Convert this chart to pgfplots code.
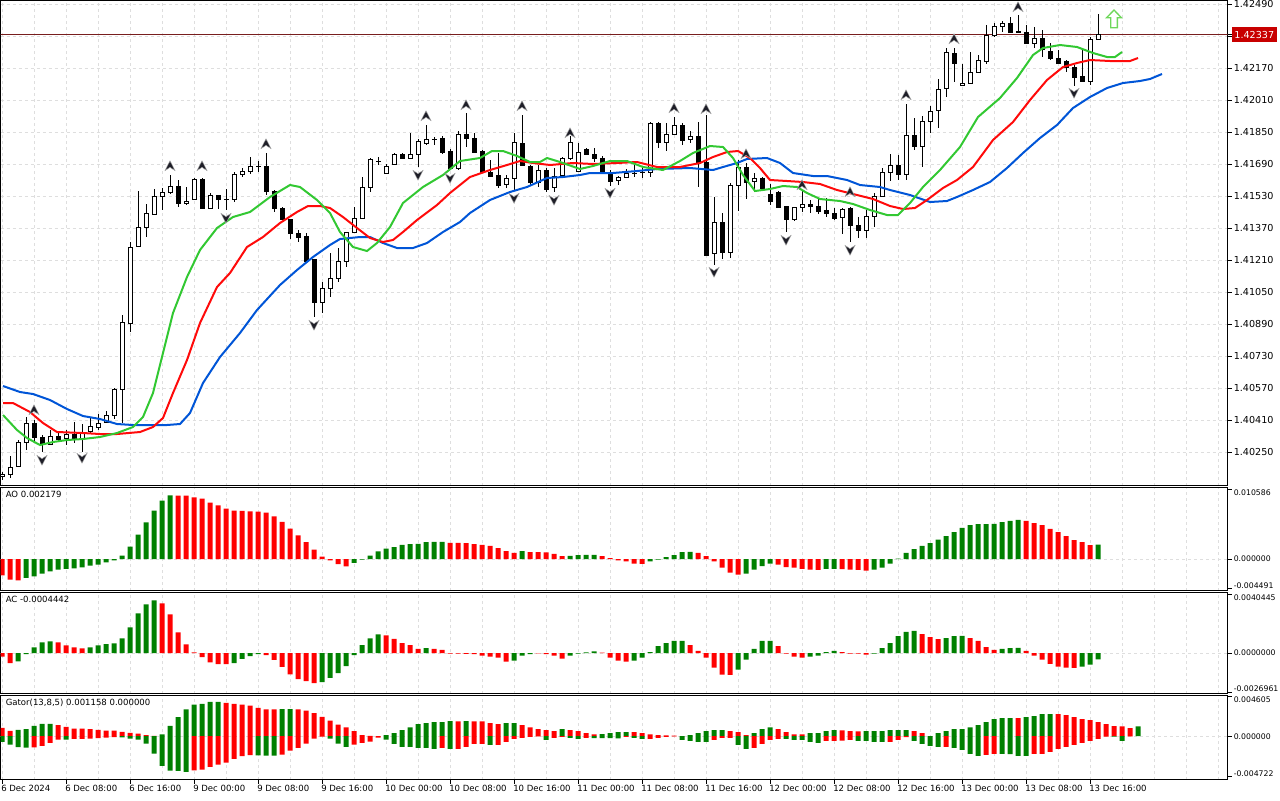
\documentclass[border=0pt]{standalone}
\usepackage{fontspec}
\setmainfont{DejaVu Sans}
\usepackage{pgfplots}
\usepackage{pgfplotstable}
\pgfplotsset{compat=1.18}
\newcommand{\lab}{\fontsize{6.4pt}{7pt}\selectfont}
\newcommand{\plab}{\fontsize{7.2pt}{8pt}\selectfont}
\newcommand{\slab}{\fontsize{5.8pt}{7pt}\selectfont}
\definecolor{mtgreen}{RGB}{0,128,0}
\definecolor{mtred}{RGB}{255,0,0}
\definecolor{jaw}{RGB}{0,85,215}
\definecolor{teeth}{RGB}{255,10,10}
\definecolor{lips}{RGB}{50,200,50}
\definecolor{gridc}{RGB}{222,222,222}
\definecolor{pricebg}{RGB}{200,0,0}
\definecolor{priceline}{RGB}{120,30,30}
\definecolor{fractal}{RGB}{30,30,40}
\definecolor{arrowc}{RGB}{110,215,90}
\pgfdeclareplotmark{fup}{%
 \pgfpathmoveto{\pgfqpoint{0pt}{3.9pt}}%
 \pgfpathlineto{\pgfqpoint{3.75pt}{-3.4pt}}%
 \pgfpathlineto{\pgfqpoint{0pt}{-1.0pt}}%
 \pgfpathlineto{\pgfqpoint{-3.75pt}{-3.4pt}}%
 \pgfpathclose\pgfusepathqfillstroke}
\pgfdeclareplotmark{fdown}{%
 \pgfpathmoveto{\pgfqpoint{0pt}{-3.9pt}}%
 \pgfpathlineto{\pgfqpoint{3.75pt}{3.4pt}}%
 \pgfpathlineto{\pgfqpoint{0pt}{1.0pt}}%
 \pgfpathlineto{\pgfqpoint{-3.75pt}{3.4pt}}%
 \pgfpathclose\pgfusepathqfillstroke}
\pgfdeclareplotmark{bigup}{%
 \pgfpathmoveto{\pgfqpoint{0pt}{6.75pt}}%
 \pgfpathlineto{\pgfqpoint{5.6pt}{0.9pt}}%
 \pgfpathlineto{\pgfqpoint{2.5pt}{0.9pt}}%
 \pgfpathlineto{\pgfqpoint{2.5pt}{-6.5pt}}%
 \pgfpathlineto{\pgfqpoint{-2.5pt}{-6.5pt}}%
 \pgfpathlineto{\pgfqpoint{-2.5pt}{0.9pt}}%
 \pgfpathlineto{\pgfqpoint{-5.6pt}{0.9pt}}%
 \pgfpathclose\pgfusepathqstroke}
\pgfplotsset{panel/.style={
  scale only axis, width=920.25pt,
  xmin=-0.1875, xmax=153.1875,
  axis line style={line width=0.75pt},
  ytick pos=right, yticklabel pos=right,
  tick align=outside, major tick length=3pt, minor tick length=0pt,
  tick style={line width=0.75pt, black},
  xtick={0,8,...,136}, minor xtick={4,12,20,28,36,44,52,60,68,76,84,92,100,108,116,124,132,140,144,148,152},
  xmajorgrids, xminorgrids,
  grid style={gridc, dash pattern=on 2.25pt off 2.25pt, line width=0.75pt},
  minor grid style={gridc, dash pattern=on 2.25pt off 2.25pt, line width=0.75pt},
  yticklabel style={font=\slab, anchor=west, inner sep=0pt, xshift=1.5pt},
  xticklabel style={font=\lab},
  scaled y ticks=false,
  clip mode=individual,
  /pgf/number format/assume math mode=true,
}}
\pgfplotsset{upper/.style={xticklabels={}, xtick style={draw=none}}}
\pgfplotsset{hist/.style={ybar, bar width=3.75pt, bar shift=0pt, draw=none}}
\tikzset{edgelab/.style={font=\slab, inner sep=0pt, xshift=4.5pt}}

\pgfplotstableread{
j O H L C
0 1.4013 1.4015 1.4011 1.4014
1 1.4014 1.4023 1.4012 1.40175
2 1.4018 1.4031 1.40175 1.4030
3 1.4030 1.40425 1.4026 1.40395
4 1.40395 1.4041 1.4030 1.40325
5 1.40325 1.40335 1.4025 1.4029
6 1.4029 1.4036 1.40285 1.4033
7 1.4033 1.4035 1.4030 1.40315
8 1.4032 1.4036 1.40285 1.4034
9 1.4034 1.4040 1.40295 1.40315
10 1.4032 1.4039 1.4025 1.4035
11 1.40355 1.40425 1.40345 1.4038
12 1.40375 1.4044 1.4036 1.40395
13 1.4040 1.40455 1.40395 1.40435
14 1.40435 1.4057 1.40415 1.40565
15 1.40565 1.40935 1.40395 1.4090
16 1.40895 1.4130 1.4085 1.41275
17 1.4128 1.41555 1.4128 1.41375
18 1.41375 1.4149 1.41325 1.41445
19 1.4144 1.41565 1.41435 1.4153
20 1.4153 1.4157 1.4146 1.4155
21 1.4155 1.41635 1.4154 1.4158
22 1.4158 1.4161 1.41475 1.41495
23 1.41495 1.41575 1.41485 1.41505
24 1.41515 1.4162 1.4151 1.41615
25 1.41615 1.4162 1.41465 1.4147
26 1.4147 1.41545 1.41465 1.41535
27 1.41535 1.41535 1.41465 1.41515
28 1.41515 1.41565 1.4146 1.41515
29 1.41515 1.4165 1.4150 1.4164
30 1.4164 1.4167 1.41625 1.41655
31 1.41655 1.41725 1.4164 1.4168
32 1.4168 1.41705 1.4165 1.4168
33 1.4168 1.41745 1.41535 1.41555
34 1.41555 1.4156 1.4145 1.4147
35 1.4147 1.41475 1.4141 1.41415
36 1.41415 1.41415 1.41315 1.41345
37 1.41345 1.4136 1.4130 1.41325
38 1.4133 1.41345 1.4120 1.41205
39 1.41215 1.41215 1.40925 1.4100
40 1.4100 1.4110 1.40945 1.4107
41 1.4107 1.41245 1.41025 1.4112
42 1.4112 1.4127 1.4110 1.41205
43 1.41205 1.4135 1.41175 1.4135
44 1.4135 1.41475 1.41345 1.4142
45 1.4142 1.41625 1.4142 1.41575
46 1.41575 1.4172 1.4155 1.41715
47 1.41705 1.41725 1.41685 1.41705
48 1.41645 1.4169 1.4164 1.4168
49 1.4169 1.41745 1.41685 1.4174
50 1.4174 1.41745 1.41715 1.4172
51 1.4172 1.41845 1.4172 1.4174
52 1.4174 1.41815 1.41675 1.41805
53 1.41795 1.41885 1.41785 1.41815
54 1.41815 1.41825 1.41785 1.41815
55 1.4182 1.4183 1.4174 1.4175
56 1.41755 1.41765 1.4166 1.4167
57 1.4167 1.41855 1.4166 1.4184
58 1.4184 1.41945 1.41775 1.4182
59 1.4182 1.41845 1.41745 1.4175
60 1.41755 1.4176 1.4165 1.4165
61 1.4165 1.4171 1.41625 1.4163
62 1.41635 1.41745 1.4157 1.41585
63 1.4159 1.41635 1.4157 1.4162
64 1.4162 1.41845 1.4156 1.4180
65 1.41795 1.41935 1.4170 1.41685
66 1.4168 1.41685 1.41585 1.4160
67 1.4160 1.41685 1.41575 1.4166
68 1.4166 1.4167 1.4155 1.41565
69 1.41575 1.4167 1.4155 1.4163
70 1.41635 1.41725 1.41625 1.4172
71 1.4172 1.4183 1.4171 1.4180
72 1.41655 1.41795 1.4165 1.4175
73 1.41765 1.4177 1.41735 1.4174
74 1.4174 1.4177 1.4170 1.4172
75 1.4172 1.4173 1.4164 1.4165
76 1.4164 1.4166 1.4158 1.41605
77 1.4161 1.4163 1.41585 1.41625
78 1.41625 1.41665 1.4162 1.41645
79 1.41645 1.41685 1.41625 1.41645
80 1.4165 1.41675 1.4162 1.4165
81 1.4165 1.4190 1.41625 1.41895
82 1.41895 1.4190 1.4177 1.4180
83 1.4180 1.41895 1.41755 1.4184
84 1.4184 1.41925 1.41835 1.41885
85 1.41885 1.41895 1.41785 1.4181
86 1.41815 1.41855 1.41795 1.4183
87 1.4183 1.4190 1.41575 1.4170
88 1.4170 1.41935 1.4123 1.41235
89 1.41245 1.41525 1.41185 1.4140
90 1.4140 1.41445 1.41215 1.4125
91 1.4125 1.41595 1.4122 1.41585
92 1.41585 1.4171 1.41455 1.41675
93 1.41675 1.41695 1.41515 1.4160
94 1.41605 1.41645 1.4155 1.4162
95 1.4162 1.41625 1.4156 1.4157
96 1.4154 1.4159 1.41485 1.41505
97 1.4155 1.41555 1.4147 1.41475
98 1.4148 1.4148 1.4135 1.41415
99 1.41415 1.41475 1.41405 1.41475
100 1.41475 1.4156 1.4145 1.4149
101 1.4149 1.4151 1.41445 1.4148
102 1.4148 1.4152 1.4144 1.41455
103 1.4146 1.4152 1.41425 1.41445
104 1.41445 1.4147 1.4141 1.4142
105 1.41425 1.4147 1.4134 1.41465
106 1.4147 1.41475 1.4130 1.41385
107 1.41385 1.41425 1.4132 1.4136
108 1.4136 1.4146 1.4132 1.4143
109 1.4143 1.41545 1.41375 1.4153
110 1.4153 1.4167 1.41525 1.4165
111 1.4165 1.4174 1.41605 1.41685
112 1.41685 1.41735 1.4161 1.4164
113 1.4164 1.4199 1.4161 1.41835
114 1.41835 1.4192 1.4176 1.4178
115 1.4178 1.4193 1.41675 1.41905
116 1.41905 1.4198 1.41845 1.41955
117 1.4196 1.42115 1.4187 1.42065
118 1.4207 1.4227 1.42025 1.4225
119 1.42245 1.4227 1.4210 1.42195
120 1.42085 1.4219 1.4208 1.42095
121 1.42095 1.4225 1.4209 1.4215
122 1.4215 1.42235 1.42145 1.4221
123 1.42205 1.42385 1.4219 1.42335
124 1.42335 1.42395 1.42325 1.4238
125 1.4238 1.42405 1.4235 1.42395
126 1.42395 1.42425 1.4235 1.4235
127 1.4235 1.42435 1.4235 1.42355
128 1.4235 1.42385 1.4229 1.42295
129 1.42295 1.42375 1.4227 1.4232
130 1.4232 1.4236 1.42225 1.42265
131 1.42255 1.42295 1.4221 1.4222
132 1.4222 1.4226 1.4219 1.42195
133 1.42205 1.4221 1.4215 1.42175
134 1.42175 1.42185 1.4208 1.42125
135 1.4213 1.42265 1.42105 1.42105
136 1.42105 1.42325 1.42085 1.42315
137 1.42315 1.4244 1.42315 1.42337
}\candles

\begin{document}
\begin{tikzpicture}
\useasboundingbox (0,0) rectangle (960pt,-600pt);
% ---------------- main price panel ----------------
\begin{axis}[panel, upper,
  at={(0.375pt,-0.375pt)}, anchor=north west, height=363.75pt,
  ymin=1.400825, ymax=1.425075,
  ytick={1.4025,1.4041,1.4057,1.4073,1.4089,1.4105,1.4121,1.4137,1.4153,1.4169,1.4185,1.4201,1.4217,1.4233,1.4249},
  yticklabels={1.40250,1.40410,1.40570,1.40730,1.40890,1.41050,1.41210,1.41370,1.41530,1.41690,1.41850,1.42010,1.42170,,1.42490},
  yticklabel style={font=\plab},
  ymajorgrids,
  clip mode=global,
  extra y ticks={1.42337}, extra y tick labels={1.42337},
  extra y tick style={grid=none, yticklabel style={fill=pricebg, text=white, inner xsep=2pt, inner ysep=3pt, xshift=-1.5pt}},
]
\addplot[priceline, line width=0.6pt, forget plot] coordinates {(-1,1.42337) (160,1.42337)};
% wicks
\addplot[draw=none, mark=none, forget plot, error bars/.cd, y dir=both, y explicit, error mark=none,
  error bar style={draw=black, line width=0.75pt}]
  table[x=j, y expr={(\thisrow{H}+\thisrow{L})/2}, y error expr={(\thisrow{H}-\thisrow{L})/2}] {\candles};
% bodies (outline / black)
\addplot[draw=none, mark=none, forget plot, error bars/.cd, y dir=both, y explicit, error mark=none,
  error bar style={draw=black, line width=3.75pt}]
  table[x=j, y expr={(\thisrow{O}+\thisrow{C})/2}, y error expr={abs(\thisrow{O}-\thisrow{C})/2+0.000025}] {\candles};
% white interior of bullish bodies
\addplot[draw=none, mark=none, forget plot, error bars/.cd, y dir=both, y explicit, error mark=none,
  error bar style={draw=white, line width=2.25pt}]
  table[x=j, y expr={(\thisrow{O}+\thisrow{C})/2}, y error expr={max((\thisrow{C}-\thisrow{O})/2-0.000025,0)}] {\candles};
% Alligator: jaw (blue)
\addplot[jaw, line width=1.5pt] coordinates {
(0.125,1.4058)(2.25,1.4055)(3.875,1.4054)(6,1.4051)(8.125,1.40465)(10.125,1.4043)(12.25,1.40415)(14.375,1.4039)(16.375,1.40385)(20.625,1.40385)(22.25,1.4039)(23.5,1.40445)(25.125,1.40595)(27.25,1.40725)(29.75,1.40845)(31.875,1.4096)(34.75,1.41085)(36.875,1.4116)(38.875,1.41225)(41,1.41285)(42.25,1.41315)(44.75,1.41325)(46,1.41325)(47.625,1.41295)(49.375,1.4127)(51.375,1.4127)(53.125,1.41295)(55.125,1.4135)(57.25,1.414)(58.5,1.41445)(61,1.4151)(63.5,1.4155)(65.625,1.41575)(68.125,1.4162)(70.125,1.41625)(72.25,1.41635)(73.5,1.41645)(76.375,1.41645)(79.375,1.41655)(81.875,1.41665)(86,1.4167)(88.875,1.4166)(90.125,1.41675)(91.875,1.41695)(93.125,1.41715)(95.625,1.4172)(97.25,1.41695)(98.875,1.41645)(101.375,1.4163)(103.125,1.4163)(105.625,1.4161)(107.25,1.41585)(109.75,1.41575)(111,1.4156)(113.5,1.41535)(116,1.415)(118.125,1.41505)(119.375,1.41525)(121.375,1.4156)(123.5,1.416)(125.625,1.4167)(127.625,1.41745)(129.75,1.4182)(131.875,1.41885)(133.875,1.4197)(136,1.42025)(138.125,1.4207)(140.125,1.42095)(142.25,1.42105)(143.5,1.42115)(145,1.4214)};
% teeth (red)
\addplot[teeth, line width=1.5pt] coordinates {
(0.125,1.40495)(1.375,1.40495)(3.5,1.4045)(5.125,1.40395)(6.875,1.4035)(10.125,1.40345)(12.25,1.4034)(14.375,1.4034)(17.25,1.4035)(18.875,1.40375)(20.125,1.4042)(21.375,1.40545)(23.125,1.4071)(24.75,1.40895)(26.875,1.41075)(28.5,1.41145)(30.625,1.41275)(32.625,1.41325)(34.75,1.41395)(36.875,1.4145)(38.25,1.4148)(39.75,1.4148)(41,1.4147)(42.625,1.41425)(44.375,1.4137)(46,1.4132)(47.625,1.413)(48.875,1.4131)(50.125,1.4135)(51.875,1.4141)(54.375,1.41485)(56,1.41545)(58.5,1.41625)(61,1.4166)(63.125,1.41685)(64.75,1.41705)(66.375,1.41695)(68.5,1.41685)(71.375,1.41695)(73.875,1.4169)(76.875,1.41695)(79.375,1.417)(81.875,1.41675)(84.75,1.41675)(87.25,1.41695)(88.875,1.41725)(90.625,1.4175)(92,1.41755)(93.5,1.4172)(94.75,1.4167)(96,1.4161)(98.125,1.41605)(100.125,1.416)(102.25,1.4159)(104.375,1.4156)(106.375,1.4154)(108.875,1.41515)(111,1.4148)(112.625,1.41465)(114.125,1.4147)(115.625,1.4151)(117.625,1.4157)(119.375,1.4161)(121.375,1.41675)(123.875,1.4181)(126.375,1.419)(128.5,1.4201)(130.625,1.4211)(132.625,1.42175)(134.375,1.42195)(136,1.4221)(138.5,1.42205)(141,1.42205)(142,1.4222)};
% lips (green)
\addplot[lips, line width=1.5pt] coordinates {
(0.125,1.40435)(1.875,1.4036)(3.125,1.4032)(4.75,1.40285)(6.375,1.4030)(8.125,1.4031)(10.125,1.40315)(12.25,1.40325)(14.375,1.40345)(16.375,1.40375)(17.625,1.40425)(18.875,1.40545)(20.125,1.40745)(21.375,1.40945)(23.125,1.41125)(24.75,1.4126)(26.875,1.4137)(28.875,1.41425)(31,1.4145)(33.5,1.41525)(36,1.41585)(37.25,1.41575)(39.375,1.4151)(41,1.41445)(42.25,1.4135)(43.875,1.41275)(45.625,1.41255)(46.875,1.41295)(48.5,1.41375)(50.125,1.41495)(52.625,1.41575)(55.125,1.41635)(57.25,1.41705)(59.75,1.4172)(61.25,1.41755)(62.625,1.41755)(64.375,1.4173)(66,1.417)(67.25,1.417)(68.125,1.4172)(69.75,1.417)(72.25,1.41665)(73.875,1.4168)(76,1.41705)(78.125,1.41705)(80.125,1.41675)(82.625,1.4166)(84.75,1.41705)(86.375,1.41745)(88.5,1.4178)(90.125,1.41775)(91.375,1.4172)(92.625,1.41635)(94.125,1.41555)(96,1.41565)(97.625,1.4158)(99.375,1.41575)(100.625,1.41545)(102.25,1.41515)(104.75,1.41505)(106.375,1.4149)(108.5,1.4146)(110.625,1.41435)(112,1.41435)(113.5,1.41495)(115.125,1.41575)(117.25,1.4166)(119.75,1.41775)(122,1.41925)(124.75,1.4202)(126.875,1.4212)(128.875,1.42235)(130.125,1.4227)(132.25,1.42285)(134.375,1.42275)(136.375,1.42245)(138.125,1.42225)(139.125,1.42225)(140,1.4225)};
% fractals
\addplot[only marks, mark=fup, mark options={fill=fractal, draw=gray!70, line width=0.35pt}] coordinates {
(4,1.4046)(21,1.4168)(25,1.4168)(33,1.4179)(53,1.4193)(58,1.41985)(65,1.4198)(71,1.41845)(84,1.4197)(88,1.41965)(93,1.4174)(100,1.41585)(106,1.4155)(113,1.42035)(119,1.42315)(127,1.42475)};
\addplot[only marks, mark=fdown, mark options={fill=fractal, draw=gray!70, line width=0.35pt}] coordinates {
(5,1.4021)(10,1.4022)(28,1.4142)(39,1.40885)(52,1.41635)(56,1.4162)(64,1.4152)(69,1.4151)(76,1.41545)(89,1.4115)(98,1.4131)(106,1.4126)(134,1.42045)};
% buy signal arrow
\addplot[only marks, mark=bigup, mark options={draw=arrowc, line width=1pt}] coordinates {(139,1.42415)};
\end{axis}
% ---------------- AO ----------------
\begin{axis}[panel, upper,
  at={(0.375pt,-365.625pt)}, anchor=north west, height=77.25pt,
  ymin=-0.004764, ymax=0.010813,
  ytick={-0.004491,0,0.010586}, yticklabels={,0.000000,},
]
\addplot[gridc, dash pattern=on 2.25pt off 2.25pt, line width=0.75pt, forget plot] coordinates {(-1,0)(160,0)};
\addplot[hist, fill=mtgreen] coordinates {(3,-0.00287)(4,-0.00262)(5,-0.00222)(6,-0.00187)(7,-0.00161)(8,-0.00151)(9,-0.00141)(10,-0.00126)(11,-0.00101)(12,-0.00086)(13,-0.0005)(14,-0.0002)(15,0.0005)(16,0.00186)(17,0.00368)(18,0.00554)(19,0.0073)(20,0.00882)(21,0.00963)(44,-0.0006)(45,-0.0001)(46,0.0005)(47,0.00116)(48,0.00156)(49,0.00181)(50,0.00212)(51,0.00227)(52,0.00228)(53,0.00257)(54,0.00258)(55,0.00259)(65,0.00121)(71,0.00047)(72,0.0006)(73,0.00062)(74,0.00064)(81,-0.00035)(82,-0.0001)(83,0.0003)(84,0.0006)(85,0.00106)(86,0.00108)(93,-0.00222)(94,-0.00161)(95,-0.00106)(96,-0.0007)(103,-0.00151)(104,-0.00149)(109,-0.00161)(110,-0.00131)(111,-0.0007)(112,0.00005)(113,0.00091)(114,0.00151)(115,0.00197)(116,0.00242)(117,0.00292)(118,0.00348)(119,0.00408)(120,0.00469)(121,0.00514)(122,0.00527)(123,0.00529)(124,0.00531)(125,0.00559)(126,0.00575)(127,0.0059)(137,0.00218)};
\addplot[hist, fill=mtred] coordinates {(0,-0.00247)(1,-0.00313)(2,-0.00323)(22,0.0096)(23,0.00958)(24,0.00932)(25,0.00912)(26,0.00851)(27,0.00812)(28,0.00761)(29,0.0073)(30,0.00728)(31,0.00721)(32,0.00716)(33,0.007)(34,0.00645)(35,0.0056)(36,0.00459)(37,0.00358)(38,0.00257)(39,0.00141)(40,0.00035)(41,-0.0002)(42,-0.00076)(43,-0.0011)(56,0.00245)(57,0.00243)(58,0.00241)(59,0.00227)(60,0.00212)(61,0.00197)(62,0.00166)(63,0.00121)(64,0.00091)(66,0.00106)(67,0.00104)(68,0.00102)(69,0.00076)(70,0.00045)(75,0.00045)(76,0.00015)(77,-0.0002)(78,-0.00035)(79,-0.0007)(80,-0.00072)(87,0.00091)(88,0.00045)(89,-0.00035)(90,-0.00131)(91,-0.00207)(92,-0.00237)(97,-0.00086)(98,-0.00121)(99,-0.00131)(100,-0.00151)(101,-0.00161)(102,-0.00163)(105,-0.00153)(106,-0.00161)(107,-0.00163)(108,-0.00176)(128,0.00575)(129,0.00544)(130,0.00514)(131,0.00454)(132,0.00408)(133,0.00348)(134,0.00287)(135,0.00257)(136,0.0021)};
\node[anchor=north west, inner sep=0pt, font=\lab] at (rel axis cs:0,1) [xshift=3.75pt, yshift=-2.6pt] {AO 0.002179};
\node[edgelab, anchor=north west] at (axis cs:153.1875,0.010586) {0.010586};
\node[edgelab, anchor=south west] at (axis cs:153.1875,-0.004491) {-0.004491};
\end{axis}
% ---------------- AC ----------------
\begin{axis}[panel, upper,
  at={(0.375pt,-444.375pt)}, anchor=north west, height=75.75pt,
  ymin=-0.00279, ymax=0.004168,
  ytick={-0.0026961,0,0.0040445}, yticklabels={,0.0000000,},
]
\addplot[gridc, dash pattern=on 2.25pt off 2.25pt, line width=0.75pt, forget plot] coordinates {(-1,0)(160,0)};
\addplot[hist, fill=mtgreen] coordinates {(2,-0.00057)(3,-0.00007)(4,0.00039)(5,0.00074)(6,0.0008)(11,0.00039)(12,0.00053)(13,0.00062)(14,0.00067)(15,0.00101)(16,0.00177)(17,0.00273)(18,0.00335)(19,0.00363)(29,-0.00069)(30,-0.00041)(31,-0.00021)(32,-0.00007)(40,-0.002)(41,-0.00172)(42,-0.00138)(43,-0.0009)(44,-0.00014)(45,0.00055)(46,0.00101)(47,0.00129)(53,0.00034)(64,-0.00053)(65,-0.00018)(66,-0.00007)(71,-0.00018)(72,-0.00005)(73,0.00005)(74,0.00011)(79,-0.00053)(80,-0.00032)(81,0.00007)(82,0.00048)(83,0.00069)(84,0.00083)(85,0.00084)(92,-0.00115)(93,-0.00046)(94,0.00028)(95,0.00083)(96,0.00084)(101,-0.00025)(102,-0.00018)(103,0.00007)(104,0.00014)(109,-0.00005)(110,0.00034)(111,0.00069)(112,0.00117)(113,0.00145)(114,0.00152)(118,0.00103)(119,0.00117)(120,0.00118)(125,0.00028)(126,0.00034)(127,0.00035)(135,-0.00094)(136,-0.0008)(137,-0.00044)};
\addplot[hist, fill=mtred] coordinates {(0,-0.00025)(1,-0.00069)(7,0.00074)(8,0.00053)(9,0.00039)(10,0.00032)(20,0.00342)(21,0.00266)(22,0.00142)(23,0.0006)(24,0.00005)(25,-0.00028)(26,-0.00064)(27,-0.00076)(28,-0.00077)(33,-0.00014)(34,-0.00048)(35,-0.00096)(36,-0.00147)(37,-0.00179)(38,-0.00193)(39,-0.00207)(48,0.00122)(49,0.00098)(50,0.00069)(51,0.00055)(52,0.00028)(54,0.00028)(55,0.00021)(56,-0.00005)(57,-0.00005)(58,-0.00006)(59,-0.00007)(60,-0.00018)(61,-0.00025)(62,-0.00032)(63,-0.0006)(67,-0.00002)(68,-0.00007)(69,-0.00018)(70,-0.00039)(75,0.00002)(76,-0.00032)(77,-0.00053)(78,-0.0006)(86,0.00055)(87,0.00014)(88,-0.00032)(89,-0.00101)(90,-0.00149)(91,-0.0015)(97,0.00048)(98,-0.00005)(99,-0.00025)(100,-0.00032)(105,0.00007)(106,-0.00005)(107,-0.00005)(108,-0.00011)(115,0.00131)(116,0.0011)(117,0.00096)(121,0.00103)(122,0.00083)(123,0.00041)(124,0.00021)(128,0.00014)(129,-0.00018)(130,-0.00046)(131,-0.00074)(132,-0.00094)(133,-0.00101)(134,-0.00102)};
\node[anchor=north west, inner sep=0pt, font=\lab] at (rel axis cs:0,1) [xshift=3.75pt, yshift=-2.6pt] {AC -0.0004442};
\node[edgelab, anchor=north west] at (axis cs:153.1875,0.0040445) {0.0040445};
\node[edgelab, anchor=south west] at (axis cs:153.1875,-0.0026961) {-0.0026961};
\end{axis}
% ---------------- Gator ----------------
\begin{axis}[panel,
  at={(0.375pt,-521.625pt)}, anchor=north west, height=63pt,
  ymin=-0.005075, ymax=0.00477,
  ytick={-0.004722,0,0.004605}, yticklabels={,0.000000,},
  xtick pos=bottom,
  xticklabels={6 Dec 2024,6 Dec 08:00,6 Dec 16:00,9 Dec 00:00,9 Dec 08:00,9 Dec 16:00,10 Dec 00:00,10 Dec 08:00,10 Dec 16:00,11 Dec 00:00,11 Dec 08:00,11 Dec 16:00,12 Dec 00:00,12 Dec 08:00,12 Dec 16:00,13 Dec 00:00,13 Dec 08:00,13 Dec 16:00},
  xticklabel style={anchor=north west, inner sep=0pt, xshift=-0.75pt, yshift=-1.2pt},
]
\addplot[gridc, dash pattern=on 2.25pt off 2.25pt, line width=0.75pt, forget plot] coordinates {(-1,0)(160,0)};
\addplot[hist, fill=mtgreen] coordinates {(2,0.00074)(3,0.00082)(4,0.00121)(5,0.00145)(6,0.00146)(20,0.00023)(21,0.00121)(22,0.00223)(23,0.00316)(24,0.00371)(25,0.00379)(26,0.00402)(27,0.00403)(35,0.00317)(36,0.00318)(48,0.00012)(49,0.00035)(50,0.0007)(51,0.00105)(52,0.00141)(53,0.00152)(54,0.00164)(55,0.00165)(56,0.00176)(58,0.00176)(63,0.00152)(64,0.00153)(70,0.00082)(75,0.00024)(76,0.00035)(77,0.00047)(78,0.00048)(86,0.00012)(87,0.00035)(88,0.00059)(89,0.0007)(90,0.00071)(94,0.00035)(95,0.00082)(96,0.00105)(101,0.00035)(102,0.00036)(103,0.00059)(104,0.0007)(108,0.00059)(109,0.0006)(110,0.00061)(111,0.0007)(112,0.00071)(113,0.00072)(117,0.00035)(118,0.00059)(119,0.00082)(120,0.00083)(121,0.00105)(122,0.00129)(123,0.00164)(124,0.00199)(125,0.00211)(126,0.00212)(128,0.00223)(129,0.00234)(130,0.00258)(131,0.00259)(142,0.00116)};
\addplot[hist, fill=mtred] coordinates {(0,0.00098)(1,0.00063)(7,0.00129)(8,0.00109)(9,0.0009)(10,0.00089)(11,0.00082)(12,0.00074)(13,0.00066)(14,0.00065)(15,0.00051)(16,0.00039)(17,0.00031)(18,0.00012)(19,0.00004)(28,0.00391)(29,0.00379)(30,0.00371)(31,0.00359)(32,0.00332)(33,0.00316)(34,0.00315)(37,0.00316)(38,0.00301)(39,0.0027)(40,0.00227)(41,0.00184)(42,0.00137)(43,0.00105)(44,0.00059)(45,0.00012)(46,0.00004)(47,0.00002)(57,0.00175)(59,0.00175)(60,0.00174)(61,0.00152)(62,0.00141)(65,0.00129)(66,0.00105)(67,0.00082)(68,0.0007)(69,0.00059)(71,0.0007)(72,0.00059)(73,0.00035)(74,0.00023)(79,0.00047)(80,0.00035)(81,0.00023)(82,0.00012)(83,0.00011)(84,0.00008)(85,0.00002)(91,0.00059)(92,0.00047)(93,0.00012)(97,0.00082)(98,0.00047)(99,0.00023)(100,0.00022)(105,0.00069)(106,0.00059)(107,0.00058)(114,0.00059)(115,0.00035)(116,0.00002)(127,0.00211)(132,0.00258)(133,0.00246)(134,0.00223)(135,0.00199)(136,0.00188)(137,0.00164)(138,0.00141)(139,0.00117)(140,0.00116)(141,0.00094)};
\addplot[hist, fill=mtgreen] coordinates {(0,-0.00066)(1,-0.00098)(2,-0.00129)(3,-0.00133)(8,-0.0004)(15,-0.00013)(16,-0.00027)(17,-0.00039)(18,-0.00086)(19,-0.00203)(20,-0.00348)(21,-0.00402)(22,-0.00406)(23,-0.00418)(32,-0.00224)(33,-0.00226)(34,-0.00227)(41,-0.00027)(42,-0.00086)(43,-0.00125)(48,-0.0004)(49,-0.0009)(50,-0.00125)(51,-0.00126)(52,-0.00137)(53,-0.00138)(54,-0.00148)(56,-0.00148)(61,-0.00102)(68,-0.00043)(71,-0.0002)(72,-0.00031)(74,-0.00021)(75,-0.00022)(76,-0.00023)(77,-0.00024)(79,-0.0002)(80,-0.00031)(85,-0.00043)(86,-0.00055)(87,-0.00066)(88,-0.00067)(92,-0.00102)(93,-0.00148)(98,-0.00032)(99,-0.00043)(100,-0.00044)(101,-0.00066)(102,-0.00078)(107,-0.00055)(108,-0.00056)(109,-0.00066)(110,-0.00067)(114,-0.00055)(115,-0.0009)(116,-0.00113)(117,-0.00125)(119,-0.00137)(120,-0.0016)(121,-0.00207)(122,-0.0023)(125,-0.00208)(126,-0.00209)(127,-0.0023)(128,-0.00231)(139,-0.00006)(140,-0.00055)};
\addplot[hist, fill=mtred] coordinates {(4,-0.00132)(5,-0.00113)(6,-0.00078)(7,-0.00039)(9,-0.00031)(10,-0.0003)(11,-0.00029)(12,-0.00023)(13,-0.00016)(14,-0.00012)(24,-0.004)(25,-0.00391)(26,-0.00359)(27,-0.00332)(28,-0.00309)(29,-0.00266)(30,-0.00234)(31,-0.00223)(35,-0.00215)(36,-0.0017)(37,-0.00137)(38,-0.00086)(39,-0.00027)(40,-0.00005)(44,-0.00098)(45,-0.00078)(46,-0.00063)(47,-0.00016)(55,-0.00137)(57,-0.00147)(58,-0.00125)(59,-0.0009)(60,-0.00089)(62,-0.00101)(63,-0.00066)(64,-0.00031)(65,-0.0002)(66,-0.00008)(67,-0.00002)(69,-0.0002)(70,-0.00008)(73,-0.0002)(78,-0.00008)(81,-0.0003)(82,-0.0002)(83,-0.00008)(84,-0.00002)(89,-0.00043)(90,-0.0002)(91,-0.00019)(94,-0.00137)(95,-0.0009)(96,-0.00043)(97,-0.00031)(103,-0.00055)(104,-0.00054)(105,-0.00053)(106,-0.00043)(111,-0.00066)(112,-0.00043)(113,-0.0001)(118,-0.00124)(123,-0.00219)(124,-0.00207)(129,-0.00207)(130,-0.00206)(131,-0.00184)(132,-0.00148)(133,-0.00125)(134,-0.00102)(135,-0.00078)(136,-0.00055)(137,-0.00031)(138,-0.00005)(141,-0.00001)};
\node[anchor=north west, inner sep=0pt, font=\lab] at (rel axis cs:0,1) [xshift=3.75pt, yshift=-2.6pt] {Gator(13,8,5) 0.001158 0.000000};
\node[edgelab, anchor=north west] at (axis cs:153.1875,0.004605) {0.004605};
\node[edgelab, anchor=south west] at (axis cs:153.1875,-0.004722) {-0.004722};
\end{axis}
\end{tikzpicture}
\end{document}
